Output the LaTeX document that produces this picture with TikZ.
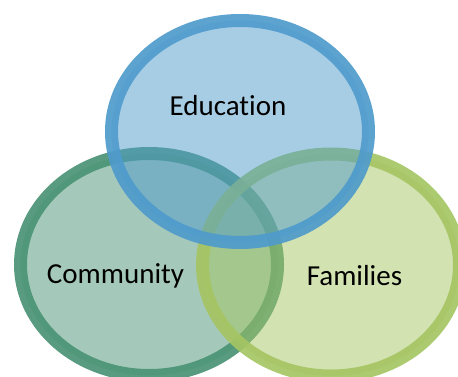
\documentclass[tikz,border=0pt]{standalone}
\usepackage{fontspec}
\setmainfont[Ligatures={NoCommon}]{Carlito}
\usetikzlibrary{shapes.geometric}
\definecolor{eduBlue}{HTML}{4F9BCC}
\definecolor{commGreen}{HTML}{4A9375}
\definecolor{famGreen}{HTML}{A5C563}
\begin{document}
\begin{tikzpicture}[x=1pt,y=-1pt,
    ring/.style={ellipse, draw=#1, fill=#1, line width=13pt, draw opacity=0.92, fill opacity=0.5,
                 minimum width=257pt, minimum height=222pt, inner sep=0pt},
    lbl/.style={font=\fontsize{29}{34}\selectfont, text=black}]
                \useasboundingbox (0,0) rectangle (458,377);
                \node[ring=commGreen] (comm) at (149,264.5) {}; \node[ring=famGreen] (fam) at (331,265) {}; \node[ring=eduBlue] (edu) at (240,131.5) {};

                \node[lbl] (eduL) at (228,106) {Education};
                \node[lbl] (commL) at (115.5,276) {Community}; \node[lbl] (famL) at (354.5,276) {Families};
            \end{tikzpicture}
\end{document}
